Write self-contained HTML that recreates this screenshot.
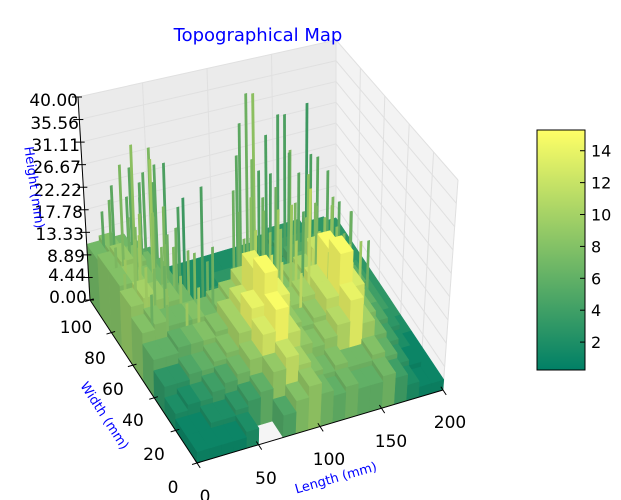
<!DOCTYPE html>
<html><head><meta charset="utf-8"><style>
html,body{margin:0;padding:0;background:#fff;}
svg{display:block;font-family:"DejaVu Sans","Liberation Sans",sans-serif;}
</style></head><body>
<svg id="chart" width="621" height="500" viewBox="0 0 621 500">
<rect width="621" height="500" fill="#fff"/>
<g id="panes"></g>
<g id="grid"></g>
<g id="surf"></g>
<g id="axes"></g>
<text x="258" y="41" font-size="18" fill="#0000ff" text-anchor="middle">Topographical Map</text>
<g font-size="17" fill="#000" text-anchor="end">
<text x="78" y="106">40.00</text><text x="79" y="129">35.56</text><text x="80" y="151">31.11</text><text x="81" y="173">26.67</text><text x="82" y="196">22.22</text><text x="83" y="218">17.78</text><text x="84" y="240">13.33</text><text x="85" y="262">8.89</text><text x="86" y="281">4.44</text><text x="87" y="303">0.00</text>
</g>
<g font-size="17" fill="#000" text-anchor="middle">
<text x="76" y="333">100</text><text x="95" y="364">80</text><text x="113" y="395">60</text><text x="133" y="426">40</text><text x="154" y="460">20</text><text x="173" y="493">0</text>
</g>
<g font-size="17" fill="#000" text-anchor="middle">
<text x="205" y="502">0</text><text x="266" y="484">50</text><text x="329" y="465">100</text><text x="391" y="447">150</text><text x="450" y="428">200</text>
</g>
<text transform="translate(337,482) rotate(-16)" font-size="13" fill="#0000ff" text-anchor="middle">Length (mm)</text>
<text transform="translate(101,418) rotate(57)" font-size="13" fill="#0000ff" text-anchor="middle">Width (mm)</text>
<text transform="translate(30,188) rotate(82)" font-size="13" fill="#0000ff" text-anchor="middle">Height (mm)</text>
<defs><linearGradient id="cg" x1="0" y1="1" x2="0" y2="0">
<stop offset="0" stop-color="#008066"/><stop offset="1" stop-color="#ffff66"/></linearGradient></defs>
<g>
<rect x="537" y="130" width="48" height="240" fill="url(#cg)" stroke="#000" stroke-width="1"/>
<g id="cbticks" font-size="16" fill="#000"></g>
</g>
</svg>
<script>
const NS="http://www.w3.org/2000/svg";
const cbTicks=[2,4,6,8,10,12,14];
const cMin=0.25, cMax=15.3;
const heights=[
[2,2,2,2,3,-1,-1,4,6,8,6,5,6,5,5,6,5,3,2,2],
[2,2,3,3,4,5,6,9,11,9,7,6,7,6,6,7,6,4,3,2],
[3,4,4,5,6,7,9,13,17,12,9,8,9,11,15,10,7,5,3,2],
[5,5,6,6,7,8,11,15,21,16,10,9,10,13,21,14,8,6,4,2],
[7,7,8,8,8,9,11,13,19,15,11,10,11,13,19,15,9,6,4,2],
[9,10,9,9,9,9,10,11,13,12,11,10,11,12,15,13,9,7,4,2],
[11,12,11,10,9,5,4,4,5,5,5,5,6,7,9,9,8,6,4,2],
[12,12,11,10,8,3,2,2,3,3,3,3,4,5,7,7,6,5,3,2],
[12,13,12,10,8,3,2,2,2,2,2,2,3,4,5,5,5,4,3,2],
[11,12,11,9,7,3,2,2,2,2,2,2,2,3,4,4,4,3,3,2]];
const colors=[
[1,1,1,1,2,0,0,5,8,9,7,6,7,6,6,7,4,2,1,1],
[1,1,2,2,3,4,6,9,12,10,8,7,8,7,7,8,6,3,1,1],
[2,2,3,4,5,7,9,13,15,12,9,8,9,11,14,10,7,4,2,1],
[3,3,5,6,7,8,10,14,15,14,9,8,9,12,15,13,8,5,3,2],
[6,6,6,7,8,8,10,12,14,12,10,9,10,12,15,12,9,6,4,3],
[8,8,7,7,8,7,8,9,11,10,9,8,9,10,12,10,8,6,4,3],
[9,10,9,8,7,4,3,4,5,5,4,3,4,5,6,6,6,5,4,3],
[8,9,8,7,6,3,2,2,3,3,3,2,3,4,5,5,5,4,3,3],
[8,9,8,7,6,3,2,2,2,3,3,2,3,3,4,4,4,4,3,3],
[7,8,7,6,5,3,2,2,2,2,2,2,2,3,3,3,3,3,3,3]];
const spikeX=[10,15,20,25,30,35,12,40,45,50,22,28,55,60,18,8,65,38,48,100,105,110,115,120,125,130,135,140,145,150,155,160,165,170,95,90,112,138,128,118,150,175,180,85,
 5,7,11,14,17,19,23,26,29,32,34,37,41,43,46,52,57,62,3,9,13,16,21,24,27,31,33,36,39,44,
 88,92,97,102,107,109,114,117,122,124,127,132,134,137,142,144,147,152,154,157,162,167,172,98,103,108,119,133,143,148,158,163];
const spikeY=[90,85,80,88,75,70,70,65,80,60,65,95,75,55,60,75,70,85,92,75,70,80,65,85,60,75,70,80,65,72,68,60,70,55,60,65,55,50,45,50,50,60,50,55,
 80,65,55,92,72,50,78,60,84,66,90,58,74,88,52,68,82,62,70,96,62,74,86,56,90,68,48,80,92,72,
 50,72,58,80,62,48,74,58,68,52,82,62,48,58,70,54,60,58,46,76,52,62,48,45,52,64,42,56,44,62,54,48];
const spikeH=[22,30,35,28,33,25,20,22,30,18,26,20,24,20,17,15,27,32,26,36,30,40,28,38,33,36,30,34,26,38,28,22,24,20,26,22,24,22,30,26,24,18,15,20,
 16,18,14,24,20,13,22,17,26,19,21,15,18,24,14,16,20,15,14,18,17,21,19,14,23,18,13,20,25,16,
 18,24,20,28,22,16,26,19,24,18,30,22,17,20,25,18,21,19,15,26,17,20,16,19,21,24,15,22,17,21,18,16];
const spikeC=[7,8,9,6,10,8,9,7,5,8,9,6,4,7,8,10,5,8,6,6,8,7,5,9,6,5,8,5,9,4,6,8,6,7,9,7,10,8,12,10,9,6,7,8,
 8,9,7,6,10,8,9,7,6,8,5,9,7,6,10,8,5,7,9,6,10,8,7,9,6,8,10,7,6,8,
 9,7,11,6,8,12,5,9,7,11,5,8,12,9,6,10,8,9,11,5,8,6,10,13,9,7,12,6,11,8,9,10];
const zTicks=[0,4.44,8.89,13.33,17.78,22.22,26.67,31.11,35.56,40];
const xTicks=[0,50,100,150,200];
const yTicks=[0,20,40,60,80,100];

function P(x,y,z){
  const u=x/200,v=y/100,w=z/40;
  const gx=197+246*u-107*v, gy=463-73*u-163*v;
  const ezx=3+12*u-15*v, ezy=-226+16*u+23*v;
  return [gx+ezx*w, gy+ezy*w];
}
function pts(a){return a.map(p=>P(p[0],p[1],p[2]).map(n=>n.toFixed(1)).join(',')).join(' ');}
function poly(g,a,fill,name,stroke){
  const e=document.createElementNS(NS,'polygon');
  e.setAttribute('points',pts(a));e.setAttribute('fill',fill);
  if(stroke){e.setAttribute('stroke',stroke);e.setAttribute('stroke-width','0.5');}
  
  
  g.appendChild(e);return e;
}
function line(g,a,b,col,w,name){
  const p=P(...a),q=P(...b);
  const e=document.createElementNS(NS,'line');
  e.setAttribute('x1',p[0]);e.setAttribute('y1',p[1]);e.setAttribute('x2',q[0]);e.setAttribute('y2',q[1]);
  e.setAttribute('stroke',col);e.setAttribute('stroke-width',w);
  
  
  g.appendChild(e);
}
function cmap(c,f){
  let t=Math.max(0,Math.min(1,(c-cMin)/(cMax-cMin)));
  const r=255*t*f,g=255*(0.5+0.5*t)*f,b=255*0.4*f;
  return `rgb(${r|0},${g|0},${b|0})`;
}
const panes=document.getElementById('panes'),grid=document.getElementById('grid');
poly(panes,[[0,0,0],[200,0,0],[200,100,0],[0,100,0]],'#f5f5f5','floor-pane');
poly(panes,[[0,100,0],[200,100,0],[200,100,40],[0,100,40]],'#ebebeb','back-pane');
poly(panes,[[200,0,0],[200,100,0],[200,100,40],[200,0,40]],'#f3f3f3','right-pane');
xTicks.forEach(x=>{line(grid,[x,0,0],[x,100,0],'#e0e0e0',1,'floor-grid-x');line(grid,[x,100,0],[x,100,40],'#e0e0e0',1,'back-grid-x');});
yTicks.forEach(y=>{line(grid,[0,y,0],[200,y,0],'#e0e0e0',1,'floor-grid-y');line(grid,[200,y,0],[200,y,40],'#e0e0e0',1,'right-grid-y');});
zTicks.forEach(z=>{line(grid,[0,100,z],[200,100,z],'#e0e0e0',1,'back-grid-z');line(grid,[200,0,z],[200,100,z],'#e0e0e0',1,'right-grid-z');});

const items=[];
heights.forEach((row,j)=>row.forEach((h,i)=>{if(h>=0)items.push({t:'c',i,j,h,c:colors[j][i],k:(i*10+5)/200+(j*10+5)/100});}));
spikeX.forEach((x,n)=>items.push({t:'s',x,y:spikeY[n],h:spikeH[n],c:spikeC[n],k:x/200+spikeY[n]/100}));
items.sort((a,b)=>b.k-a.k);
const surf=document.getElementById('surf');
items.forEach(it=>{
  if(it.t==='c'){
    const x0=it.i*10,x1=x0+10,y0=it.j*10,y1=y0+10,h=it.h;
    poly(surf,[[x0,y0,0],[x0,y1,0],[x0,y1,h],[x0,y0,h]],cmap(it.c,0.88),'surface-cell-side',cmap(it.c,0.88));
    poly(surf,[[x0,y0,0],[x1,y0,0],[x1,y0,h],[x0,y0,h]],cmap(it.c,0.94),'surface-cell-front',cmap(it.c,0.94));
    poly(surf,[[x0,y0,h],[x1,y0,h],[x1,y1,h],[x0,y1,h]],cmap(it.c,1),'surface-cell-top',cmap(it.c,1));
  } else {
    const x=it.x,y=it.y;
    poly(surf,[[x,y,0],[x+2.2,y,0],[x+2.2,y,it.h],[x,y,it.h]],cmap(it.c,0.95),'surface-spike');
  }
});
const ax=document.getElementById('axes');
line(ax,[0,100,0],[0,100,40],'#000',1,'z-axis-line');
line(ax,[0,0,0],[0,100,0],'#000',1,'width-axis-line');
line(ax,[0,0,0],[200,0,0],'#000',1,'length-axis-line');
zTicks.forEach(z=>{const p=P(0,100,z);const e=document.createElementNS(NS,'line');e.setAttribute('x1',p[0]-6);e.setAttribute('y1',p[1]);e.setAttribute('x2',p[0]+4);e.setAttribute('y2',p[1]);e.setAttribute('stroke','#000');


ax.appendChild(e);});
yTicks.forEach(y=>{line(ax,[-4,y,0],[3,y,0],'#000',1,'width-tick');});
xTicks.forEach(x=>{line(ax,[x,-3,0],[x,2,0],'#000',1,'length-tick');});
const cb=document.getElementById('cbticks');
cbTicks.forEach(v=>{
  const y=370-(v-cMin)/(cMax-cMin)*240;
  const l=document.createElementNS(NS,'line');
  l.setAttribute('x1',580);l.setAttribute('x2',585);l.setAttribute('y1',y);l.setAttribute('y2',y);l.setAttribute('stroke','#000');
  
  
  cb.appendChild(l);
  const t=document.createElementNS(NS,'text');
  t.setAttribute('x',591);t.setAttribute('y',y+6);t.textContent=v;
  
  
  cb.appendChild(t);
});
</script>
</body></html>
